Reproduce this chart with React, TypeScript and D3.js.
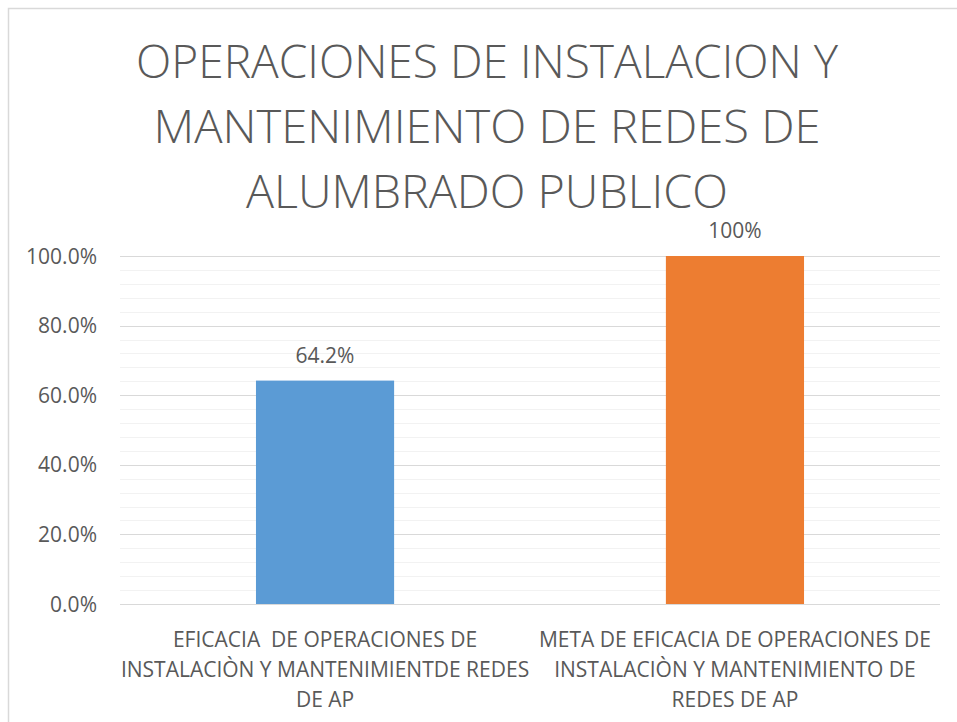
import React from 'react';
import * as d3 from 'd3';

// chart data
const titleLines = ['OPERACIONES DE INSTALACION Y', 'MANTENIMIENTO DE REDES DE', 'ALUMBRADO PUBLICO'];
const titleWidths = [702, 667, 482];

const categories = ['eficacia', 'meta'];
const categoryLines = [
  ['EFICACIA  DE OPERACIONES DE', 'INSTALACIÒN Y MANTENIMIENTDE REDES', 'DE AP'],
  ['META DE EFICACIA DE OPERACIONES DE', 'INSTALACIÒN Y MANTENIMIENTO DE', 'REDES DE AP'],
];
const values = [0.642, 1.0];
const valueLabels = ['64.2%', '100%'];
const barColors = ['#5B9BD5', '#ED7D31'];

const W = 957;
const H = 722;
const plot = { left: 120, right: 940, top: 256, bottom: 604 };
const FONT = '"Open Sans", "Liberation Sans", sans-serif';
const TEXT = '#595959';
const LABEL_SIZE = 21;

const App = () => {
  const x = d3.scaleBand<string>()
    .domain(categories)
    .range([plot.left, plot.right])
    .paddingInner(0.663)
    .paddingOuter(0.3317);

  const y = d3.scaleLinear().domain([0, 1]).range([plot.bottom, plot.top]);

  const majorTicks = y.ticks(5);
  // minor lines: 5 per major interval
  const minorTicks = d3.range(0, 26).map(i => i / 25).filter((_, i) => i % 5 !== 0);
  const fmt = d3.format('.1%');

  return (
    <svg width={W} height={H} style={{ position: 'absolute', left: 0, top: 0 }} fontFamily={FONT}>
      <rect x={0} y={0} width={W} height={H} fill="#fff" />
      {/* chart border */}
      <rect x={8.5} y={8.5} width={W + 20} height={H + 20} fill="none" stroke="#d9d9d9" strokeWidth={1.5} />

      {/* title */}
      {titleLines.map((t, i) => (
        <text key={i} x={487} y={78 + i * 65} textAnchor="middle" fontSize={46} fill={TEXT}
          fontWeight={300} textLength={titleWidths[i]} lengthAdjust="spacingAndGlyphs">{t}</text>
      ))}

      {/* gridlines */}
      {minorTicks.map((t, i) => (
        <line key={'m' + i} x1={plot.left} x2={plot.right} y1={Math.round(y(t)) + 0.5} y2={Math.round(y(t)) + 0.5}
          stroke="#f2f2f2" strokeWidth={1} />
      ))}
      {majorTicks.map((t, i) => (
        <line key={'M' + i} x1={plot.left} x2={plot.right} y1={Math.round(y(t)) + 0.5} y2={Math.round(y(t)) + 0.5}
          stroke="#d9d9d9" strokeWidth={1.2} />
      ))}

      {/* y tick labels */}
      {majorTicks.map((t, i) => (
        <text key={'l' + i} x={97} y={y(t)} dy="0.36em" textAnchor="end" fontSize={LABEL_SIZE} fill={TEXT}>{fmt(t)}</text>
      ))}

      {/* bars */}
      {categories.map((c, i) => (
        <rect key={c} x={x(c)} y={y(values[i])} width={x.bandwidth()} height={y(0) - y(values[i])} fill={barColors[i]} />
      ))}

      {/* data labels */}
      {categories.map((c, i) => (
        <text key={'v' + c} x={(x(c) ?? 0) + x.bandwidth() / 2} y={y(values[i]) - 18} textAnchor="middle"
          fontSize={LABEL_SIZE} fill={TEXT}>{valueLabels[i]}</text>
      ))}

      {/* category labels */}
      {categories.map((c, i) => (
        <text key={'c' + c} textAnchor="middle" fontSize={LABEL_SIZE} fill={TEXT} style={{ whiteSpace: 'pre' }}>
          {categoryLines[i].map((ln, j) => (
            <tspan key={j} x={(x(c) ?? 0) + x.bandwidth() / 2} y={647 + j * 30}>{ln}</tspan>
          ))}
        </text>
      ))}
    </svg>
  );
};

export default App;
